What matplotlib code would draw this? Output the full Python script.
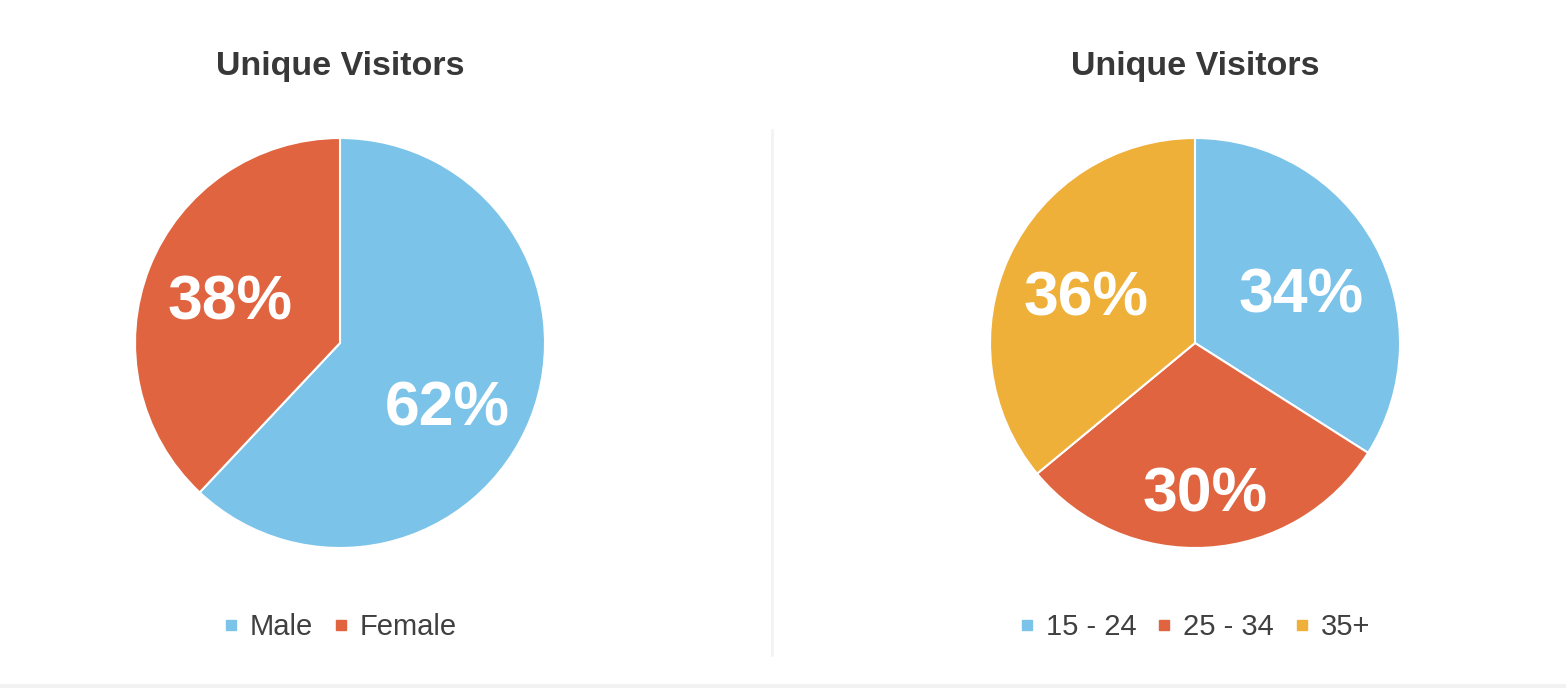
import matplotlib
matplotlib.use("Agg")
import matplotlib.pyplot as plt
from matplotlib.lines import Line2D

plt.rcParams['font.family'] = ['Liberation Sans', 'DejaVu Sans']

# data
title = "Unique Visitors"
gender_labels = ["Male", "Female"]
gender_values = [62, 38]
gender_colors = ["#7bc3e8", "#e0643f"]

age_labels = ["15 - 24", "25 - 34", "35+"]
age_values = [34, 30, 36]
age_colors = ["#7bc3e8", "#e0643f", "#efb03a"]

W, H = 1566, 688
R = 205  # pie radius in px
fig = plt.figure(figsize=(W / 100, H / 100), dpi=100)
fig.patch.set_facecolor("white")


def draw_pie(cx, labels, values, colors, nudge):
    cy = 343
    ax = fig.add_axes([(cx - R) / W, (H - cy - R) / H, 2 * R / W, 2 * R / H])
    wedges, texts, autotexts = ax.pie(
        values, colors=colors, startangle=90, counterclock=False,
        autopct="%d%%", pctdistance=0.59,
        wedgeprops=dict(edgecolor="white", linewidth=1.5),
        textprops=dict(color="white", fontsize=45, fontweight="bold"))
    ax.set_xlim(-1, 1)
    ax.set_ylim(-1, 1)
    ax.set_aspect("equal")
    # small label nudges (px) to sit where the original puts them
    for t, (dx, dy) in zip(autotexts, nudge):
        x, y = t.get_position()
        t.set_position((x + dx / R, y - dy / R))

    fig.text(cx / W, 1 - 66 / H, title, ha="center", va="center",
             fontsize=24.5, fontweight="bold", color="#383838")

    handles = [Line2D([], [], marker="s", linestyle="none", markersize=7,
                      markerfacecolor=c, markeredgecolor=c) for c in colors]
    fig.legend(handles, labels, loc="center", ncol=len(labels),
               bbox_to_anchor=(cx / W, 1 - 627 / H), frameon=False,
               fontsize=21, handlelength=0.5, handletextpad=0.4,
               columnspacing=0.7, labelcolor="#404040")
    return ax


draw_pie(340, gender_labels, gender_values, gender_colors,
         nudge=[(-5, 21), (3, 5)])
draw_pie(1195, age_labels, age_values, age_colors,
         nudge=[(0, 11), (3, 31), (0, 7)])

# faint divider and bottom strip
fig.add_artist(Line2D([772 / W, 772 / W], [1 - 130 / H, 1 - 655 / H],
                      transform=fig.transFigure, color="#f3f3f3", linewidth=2))
fig.add_artist(plt.Rectangle((0, 0), 1, 4 / H, transform=fig.transFigure,
                             facecolor="#f2f2f2", edgecolor="none"))

fig.savefig("out.png", dpi=100)
